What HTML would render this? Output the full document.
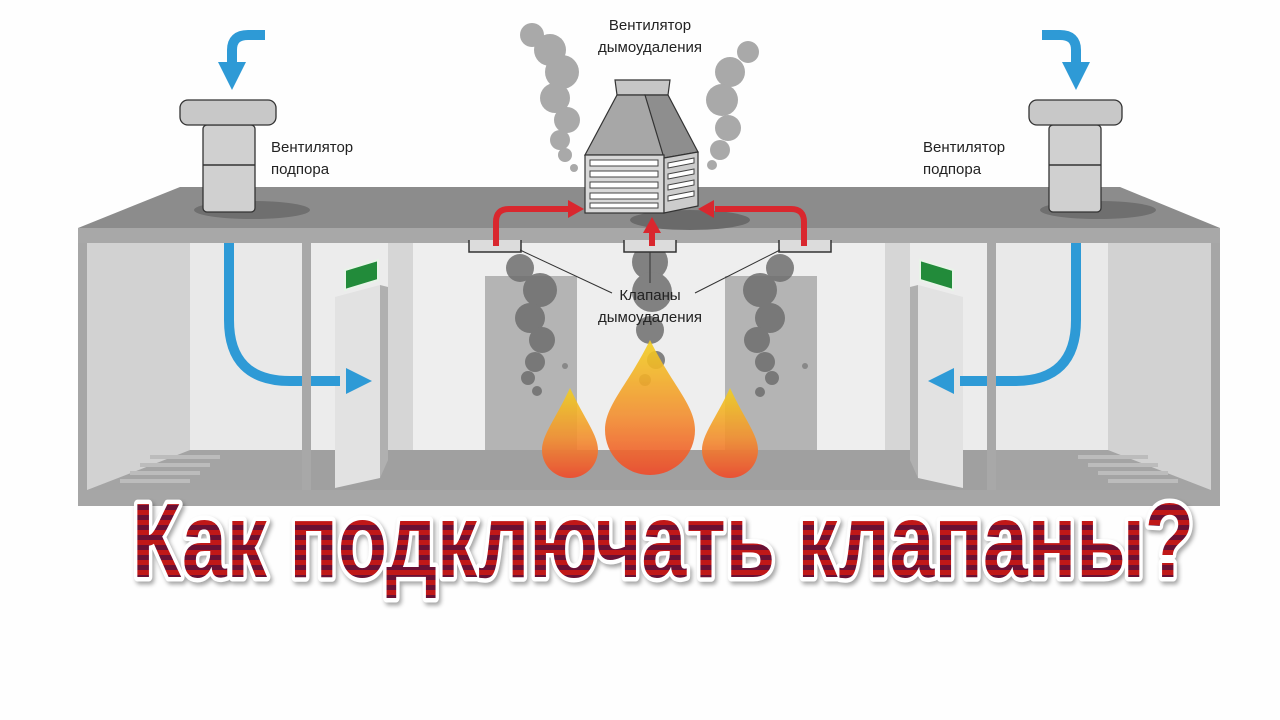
<!DOCTYPE html>
<html><head><meta charset="utf-8"><style>
html,body{margin:0;padding:0;background:#fff;}
svg{display:block;}
</style></head><body>
<svg width="1280" height="720" viewBox="0 0 1280 720" xmlns="http://www.w3.org/2000/svg">
<defs>
<linearGradient id="fl" x1="0" y1="0" x2="0" y2="1">
<stop offset="0" stop-color="#f2d020"/><stop offset="0.55" stop-color="#f39030"/><stop offset="1" stop-color="#f04a2a"/>
</linearGradient>
<pattern id="stripe" width="10" height="10" patternUnits="userSpaceOnUse">
<rect width="10" height="10" fill="#c01818"/><rect y="5" width="10" height="5" fill="#6a1034"/>
</pattern>
</defs>
<rect width="1280" height="720" fill="#fefefe"/>
<rect x="78" y="228" width="1142" height="278" fill="#a6a6a6"/>
<polygon points="78,228 180,187 1120,187 1220,228" fill="#8c8c8c"/>
<rect x="78" y="228" width="1142" height="15" fill="#a8a8a8"/>
<rect x="87" y="243" width="1124" height="247" fill="#e6e6e6"/>
<polygon points="87,243 190,243 190,450 87,490" fill="#d2d2d2"/>
<rect x="190" y="243" width="112" height="207" fill="#e9e9e9"/>
<polygon points="87,490 190,450 302,450 302,490" fill="#a4a4a4"/>
<g fill="#bcbcbc"><rect x="150" y="455" width="70" height="4"/><rect x="140" y="463" width="70" height="4"/><rect x="130" y="471" width="70" height="4"/><rect x="120" y="479" width="70" height="4"/></g>
<rect x="302" y="243" width="9" height="247" fill="#a8a8a8"/>
<polygon points="1211,243 1108,243 1108,450 1211,490" fill="#d2d2d2"/>
<rect x="996" y="243" width="112" height="207" fill="#e9e9e9"/>
<polygon points="1211,490 1108,450 996,450 996,490" fill="#a4a4a4"/>
<g fill="#bcbcbc"><rect x="1078" y="455" width="70" height="4"/><rect x="1088" y="463" width="70" height="4"/><rect x="1098" y="471" width="70" height="4"/><rect x="1108" y="479" width="70" height="4"/></g>
<rect x="987" y="243" width="9" height="247" fill="#a8a8a8"/>
<rect x="311" y="243" width="102" height="207" fill="#ececec"/>
<rect x="885" y="243" width="102" height="207" fill="#ececec"/>
<rect x="413" y="243" width="472" height="207" fill="#eeeeee"/>
<rect x="311" y="450" width="676" height="40" fill="#a0a0a0"/>
<polygon points="335,297 380,285 380,478 335,488" fill="#e2e2e2"/>
<polygon points="380,285 388,287 388,460 380,478" fill="#b0b0b0"/>
<rect x="388" y="243" width="25" height="207" fill="#d6d6d6"/>
<polygon points="345,270 378,260 378,280 345,290" fill="#228b3a" stroke="#e8f4e8" stroke-width="2"/>
<polygon points="963,297 918,285 918,478 963,488" fill="#e2e2e2"/>
<polygon points="918,285 910,287 910,460 918,478" fill="#b0b0b0"/>
<rect x="885" y="243" width="25" height="207" fill="#d6d6d6"/>
<polygon points="953,270 920,260 920,280 953,290" fill="#228b3a" stroke="#e8f4e8" stroke-width="2"/>
<rect x="485" y="276" width="92" height="174" fill="#b4b4b4"/>
<rect x="725" y="276" width="92" height="174" fill="#b4b4b4"/>
<circle cx="805" cy="366" r="3" fill="#888"/><circle cx="565" cy="366" r="3" fill="#888"/>
<rect x="78" y="490" width="1142" height="16" fill="#a6a6a6"/>
<g fill="#6e6e6e" opacity="0.85">
<circle cx="520" cy="268" r="14"/><circle cx="540" cy="290" r="17"/><circle cx="530" cy="318" r="15"/><circle cx="542" cy="340" r="13"/><circle cx="535" cy="362" r="10"/><circle cx="528" cy="378" r="7"/><circle cx="537" cy="391" r="5"/>
<circle cx="780" cy="268" r="14"/><circle cx="760" cy="290" r="17"/><circle cx="770" cy="318" r="15"/><circle cx="757" cy="340" r="13"/><circle cx="765" cy="362" r="10"/><circle cx="772" cy="378" r="7"/><circle cx="760" cy="392" r="5"/>
<circle cx="650" cy="262" r="18"/><circle cx="652" cy="292" r="20"/><circle cx="650" cy="330" r="14"/><circle cx="656" cy="360" r="9"/><circle cx="645" cy="380" r="6"/>
</g>
<g opacity="0.9">
<path d="M570,388 C585,420 598,435 598,450 A28,28 0 0 1 542,450 C542,435 555,420 570,388Z" fill="url(#fl)"/>
<path d="M650,340 C672,385 695,405 695,430 A45,45 0 0 1 605,430 C605,405 628,385 650,340Z" fill="url(#fl)"/>
<path d="M730,388 C745,420 758,435 758,450 A28,28 0 0 1 702,450 C702,435 715,420 730,388Z" fill="url(#fl)"/>
</g>
<g fill="#dcdcdc" stroke="#333" stroke-width="1.5">
<path d="M469,240 v12 h52 v-12" /><path d="M624,240 v12 h52 v-12"/><path d="M779,240 v12 h52 v-12"/>
</g>
<g stroke="#333" stroke-width="1" fill="none">
<line x1="520" y1="250" x2="612" y2="293"/><line x1="650" y1="252" x2="650" y2="283"/><line x1="780" y1="250" x2="695" y2="293"/>
</g>
<ellipse cx="252" cy="210" rx="58" ry="9" fill="#6f6f6f"/>
<ellipse cx="1098" cy="210" rx="58" ry="9" fill="#6f6f6f"/>
<g stroke="#333" stroke-width="1.3">
<rect x="203" y="125" width="52" height="87" rx="4" fill="#d0d0d0"/>
<rect x="180" y="100" width="96" height="25" rx="8" fill="#c8c8c8"/>
<rect x="1049" y="125" width="52" height="87" rx="4" fill="#d0d0d0"/>
<rect x="1029" y="100" width="93" height="25" rx="8" fill="#c8c8c8"/>
</g>
<line x1="203" y1="165" x2="255" y2="165" stroke="#333" stroke-width="1.5"/>
<line x1="1049" y1="165" x2="1101" y2="165" stroke="#333" stroke-width="1.5"/>
<g fill="#a9a9a9">
<circle cx="532" cy="35" r="12"/><circle cx="550" cy="50" r="16"/><circle cx="562" cy="72" r="17"/><circle cx="555" cy="98" r="15"/><circle cx="567" cy="120" r="13"/><circle cx="560" cy="140" r="10"/><circle cx="565" cy="155" r="7"/><circle cx="574" cy="168" r="4"/>
<circle cx="748" cy="52" r="11"/><circle cx="730" cy="72" r="15"/><circle cx="722" cy="100" r="16"/><circle cx="728" cy="128" r="13"/><circle cx="720" cy="150" r="10"/><circle cx="712" cy="165" r="5"/>
</g>
<ellipse cx="690" cy="220" rx="60" ry="10" fill="#6a6a6a"/>
<polygon points="615,80 670,80 668,95 617,95" fill="#c6c6c6" stroke="#333" stroke-width="1.2"/>
<polygon points="617,95 645,95 690,155 585,155" fill="#a7a7a7" stroke="#333" stroke-width="1.2"/>
<polygon points="645,95 668,95 698,152 664,158" fill="#8e8e8e" stroke="#333" stroke-width="1.2"/>
<rect x="585" y="155" width="79" height="58" fill="#d8d8d8" stroke="#333" stroke-width="1.2"/>
<polygon points="664,158 698,152 698,206 664,213" fill="#cccccc" stroke="#333" stroke-width="1.2"/>
<g fill="#fff" stroke="#444" stroke-width="1">
<rect x="590" y="160" width="68" height="6"/><rect x="590" y="171" width="68" height="6"/><rect x="590" y="182" width="68" height="6"/><rect x="590" y="193" width="68" height="6"/><rect x="590" y="203" width="68" height="5"/>
<polygon points="668,163 694,158 694,163 668,168"/><polygon points="668,174 694,169 694,174 668,179"/><polygon points="668,185 694,180 694,185 668,190"/><polygon points="668,196 694,191 694,196 668,201"/>
</g>
<g fill="none" stroke="#d9272e" stroke-width="6">
<path d="M496,246 V222 Q496,209 509,209 H570"/>
<path d="M804,246 V222 Q804,209 791,209 H715"/>
<path d="M652,246 V232"/>
</g>
<g fill="#d9272e">
<polygon points="584,209 568,200 568,218"/><polygon points="698,209 714,200 714,218"/><polygon points="652,217 643,233 661,233"/>
</g>
<g fill="none" stroke="#2e9ad6" stroke-width="10">
<path d="M265,35 H248 Q232,35 232,50 V64"/>
<path d="M1042,35 H1060 Q1076,35 1076,50 V64"/>
<path d="M229,243 V320 Q229,381 290,381 H302"/>
<path d="M311,381 H340"/>
<path d="M1076,243 V320 Q1076,381 1015,381 H996"/>
<path d="M987,381 H960"/>
</g>
<g fill="#2e9ad6">
<polygon points="232,90 218,62 246,62"/><polygon points="1076,90 1062,62 1090,62"/>
<polygon points="372,381 346,368 346,394"/><polygon points="928,381 954,368 954,394"/>
</g>
<g font-family="'Liberation Sans','DejaVu Sans',sans-serif" font-size="15" fill="#222">
<text x="271" y="152">Вентилятор</text><text x="271" y="174">подпора</text>
<text x="923" y="152">Вентилятор</text><text x="923" y="174">подпора</text>
<text x="650" y="30" text-anchor="middle">Вентилятор</text><text x="650" y="52" text-anchor="middle">дымоудаления</text>
<text x="650" y="300" text-anchor="middle">Клапаны</text><text x="650" y="322" text-anchor="middle">дымоудаления</text>
</g>
<text x="132" y="577" textLength="1062" lengthAdjust="spacingAndGlyphs" font-family="'Liberation Sans Narrow','Liberation Sans',sans-serif" font-weight="bold" font-size="106" fill="url(#stripe)" stroke="#fff" stroke-width="9" stroke-linejoin="round" paint-order="stroke" style="filter:drop-shadow(2px 3px 2px rgba(0,0,0,0.35))">Как подключать клапаны?</text>
</svg>
</body></html>
